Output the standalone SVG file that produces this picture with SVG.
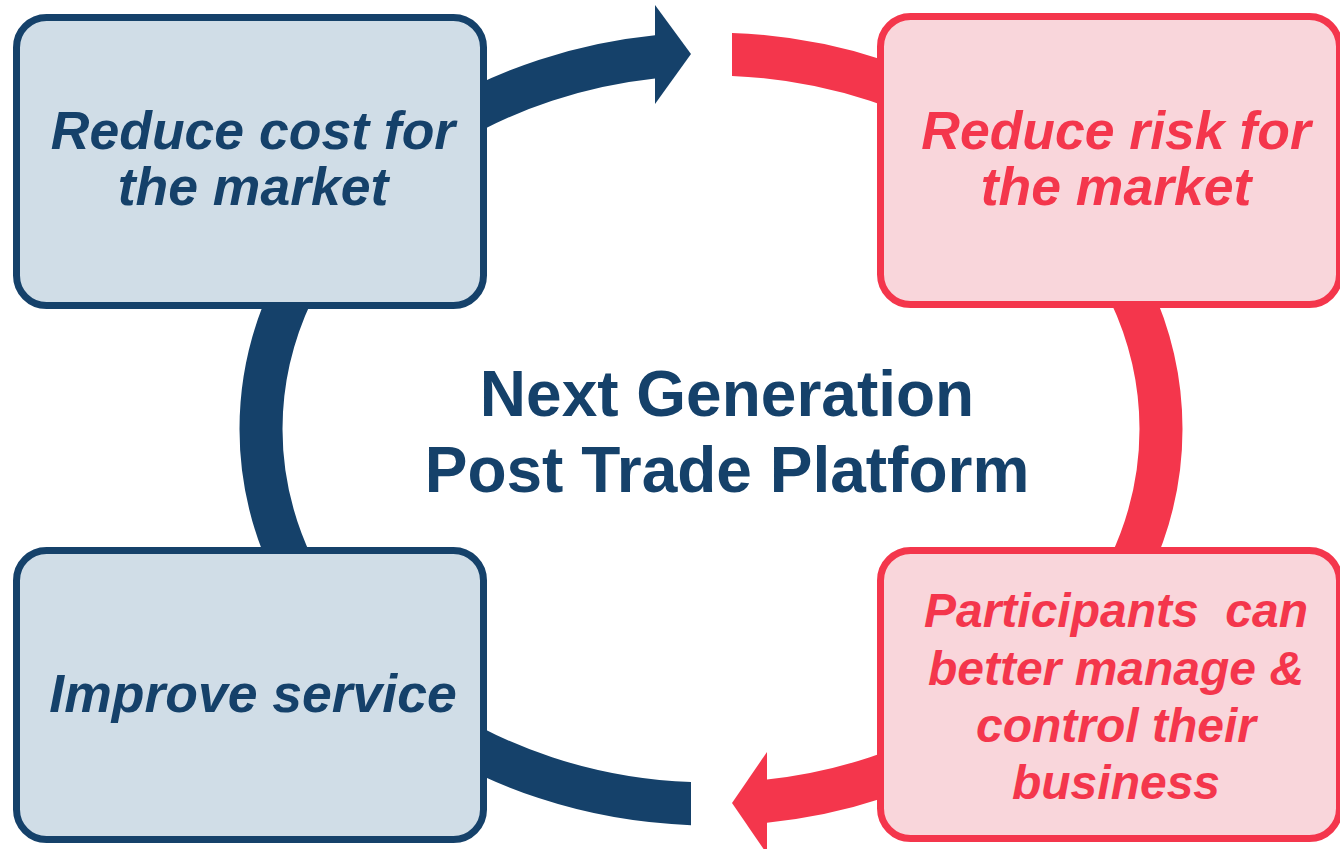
<svg xmlns="http://www.w3.org/2000/svg" width="1340" height="849" viewBox="0 0 1340 849">
  <style>
    .box-blue { fill: #d0dde7; stroke: #15416a; stroke-width: 7; }
    .box-red { fill: #f9d6db; stroke: #f4364c; stroke-width: 7; }
    .lbl { font-family: "Liberation Sans", Arial, sans-serif; font-weight: bold; font-style: italic; font-size: 53.5px; text-anchor: middle; white-space: pre; }
    .small { font-size: 48px; }
    .lbl-blue { fill: #15416a; }
    .lbl-red { fill: #f4364c; }
    .title { font-family: "Liberation Sans", Arial, sans-serif; font-weight: bold; font-size: 64px; text-anchor: middle; fill: #15416a; }
  </style>
  <defs>
    <clipPath id="clipBlue">
      <polygon points="0,0 655,0 655,429 691,429 691,849 0,849"/>
    </clipPath>
    <clipPath id="clipRed">
      <polygon points="732,0 1340,0 1340,849 767,849 767,429 732,429"/>
    </clipPath>
  </defs>
  <rect width="1340" height="849" fill="#ffffff"/>
  <g id="connectors">
    <ellipse cx="711" cy="429" rx="450" ry="375" fill="none" stroke="#15416a" stroke-width="43" clip-path="url(#clipBlue)"/>
    <polygon points="655,5 691,54 655,104" fill="#15416a"/>
    <ellipse cx="711" cy="429" rx="450" ry="375" fill="none" stroke="#f4364c" stroke-width="43" clip-path="url(#clipRed)"/>
    <polygon points="767,752 732,803 767,854" fill="#f4364c"/>
  </g>
  <g id="node-reduce-cost">
    <rect class="box-blue" x="16.5" y="17.5" width="467" height="288" rx="30" ry="30"/>
    <text class="lbl lbl-blue" x="253" y="149">Reduce cost for</text>
    <text class="lbl lbl-blue" x="253" y="205">the market</text>
  </g>
  <g id="node-reduce-risk">
    <rect class="box-red" x="880.5" y="16.5" width="459" height="288" rx="30" ry="30"/>
    <text class="lbl lbl-red" x="1116" y="149">Reduce risk for</text>
    <text class="lbl lbl-red" x="1116" y="205">the market</text>
  </g>
  <g id="node-improve-service">
    <rect class="box-blue" x="16.5" y="550.5" width="467" height="289" rx="30" ry="30"/>
    <text class="lbl lbl-blue" x="253" y="712">Improve service</text>
  </g>
  <g id="node-participants">
    <rect class="box-red" x="880.5" y="550.5" width="459" height="288" rx="30" ry="30"/>
    <text class="lbl small lbl-red" x="1116" y="627">Participants  can</text>
    <text class="lbl small lbl-red" x="1116" y="685">better manage &amp;</text>
    <text class="lbl small lbl-red" x="1116" y="742">control their</text>
    <text class="lbl small lbl-red" x="1116" y="799">business</text>
  </g>
  <g id="node-center">
    <text class="title" x="727" y="416">Next Generation</text>
    <text class="title" x="727" y="492">Post Trade Platform</text>
  </g>
</svg>
